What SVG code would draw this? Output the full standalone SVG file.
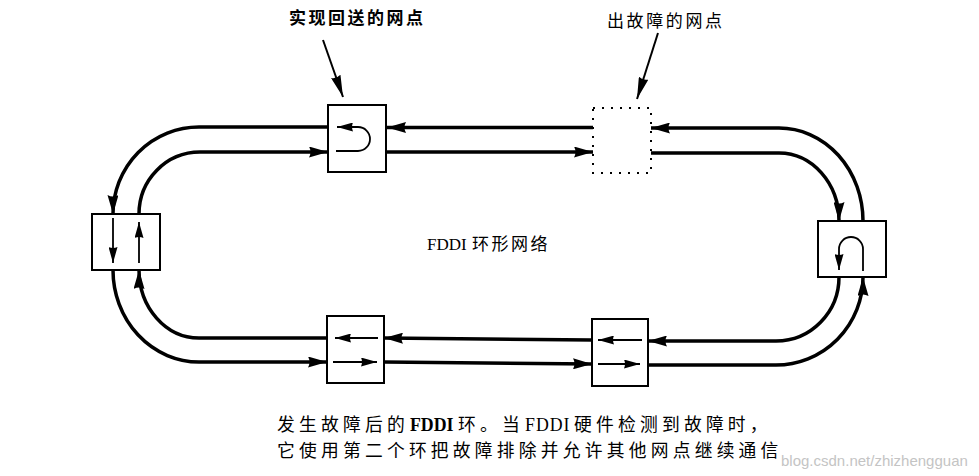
<svg xmlns="http://www.w3.org/2000/svg" width="979" height="476" viewBox="0 0 979 476">
<style>
.trk{fill:none;stroke:#000;stroke-width:3.5;stroke-linecap:butt}
.box{fill:#fff;stroke:#000;stroke-width:2}
.dot{fill:none;stroke:#000;stroke-width:2;stroke-dasharray:2 7}
.in{fill:none;stroke:#000;stroke-width:1.8}
.lbl{fill:none;stroke:#000;stroke-width:2}
.cjk{font-family:"Noto Sans CJK SC","Noto Sans",sans-serif;fill:#000}
.cap{font-family:"Noto Sans CJK SC","Noto Sans",sans-serif;fill:#000;font-size:17.8px;letter-spacing:4.2px}
.ser{font-family:"Liberation Serif",serif;fill:#000}
.wm{font-family:"Liberation Sans",Arial,sans-serif;fill:#c4c4c4}
</style>
<defs>
<marker id="ah" viewBox="0 0 19 11" refX="19" refY="5.5" markerWidth="19" markerHeight="11" markerUnits="userSpaceOnUse" orient="auto">
<path d="M0,0 L19,5.5 L0,11 Q3,5.5 0,0 z" fill="#000"/>
</marker>
<marker id="as" viewBox="0 0 16 9" refX="16" refY="4.5" markerWidth="16" markerHeight="9" markerUnits="userSpaceOnUse" orient="auto">
<path d="M0,0 L16,4.5 L0,9 Q2,4.5 0,0 z" fill="#000"/>
</marker>
<marker id="al" viewBox="0 0 22 10" refX="22" refY="5" markerWidth="22" markerHeight="10" markerUnits="userSpaceOnUse" orient="auto">
<path d="M0,0 L22,5 L0,10 Q3,5 0,0 z" fill="#000"/>
</marker>
</defs>

<g id="connectors">
<path class="trk" d="M328,127 H199 A86,87 0 0 0 113,214" marker-end="url(#ah)"/>
<path class="trk" d="M139,214 A61,62 0 0 1 200,152 H328" marker-end="url(#ah)"/>
<path class="trk" d="M593,127.5 H387" marker-end="url(#ah)"/>
<path class="trk" d="M386,152 H593" marker-end="url(#ah)"/>
<path class="trk" d="M863,221 A84,93 0 0 0 779,128 H651" marker-end="url(#ah)"/>
<path class="trk" d="M651,153 H779 A60,68 0 0 1 839,221" marker-end="url(#ah)"/>
<path class="trk" d="M648,365 H776 A87,88 0 0 0 863,277" marker-end="url(#ah)"/>
<path class="trk" d="M839,277 A63,64 0 0 1 776,341 H648" marker-end="url(#ah)"/>
<path class="trk" d="M592,340 L384,338" marker-end="url(#ah)"/>
<path class="trk" d="M384,362 L592,364" marker-end="url(#ah)"/>
<path class="trk" d="M327,338 H199 A60,68 0 0 1 139,270" marker-end="url(#ah)"/>
<path class="trk" d="M113,270 A86,92 0 0 0 199,362 H327" marker-end="url(#ah)"/>
<path class="lbl" d="M323,40 L343,97" marker-end="url(#al)"/>
<path class="lbl" d="M658,33 L637,99" marker-end="url(#al)"/>
</g>

<g id="node-loopback">
<rect class="box" x="328" y="105" width="58" height="67"/>
<path class="in" d="M336,151 H358 A12,12 0 0 0 358,127 H337" marker-end="url(#as)"/>
</g>

<g id="node-faulty">
<rect class="dot" x="593" y="108" width="58" height="65"/>
</g>

<g id="node-left">
<rect class="box" x="92" y="214" width="68" height="56"/>
<path class="in" d="M113,218 V263" marker-end="url(#as)"/>
<path class="in" d="M139,263 V222" marker-end="url(#as)"/>
</g>

<g id="node-right">
<rect class="box" x="818" y="221" width="68" height="56"/>
<path class="in" d="M863,271 V249 A12,12 0 0 0 839,249 V270" marker-end="url(#as)"/>
</g>

<g id="node-bottom-left">
<rect class="box" x="327" y="316" width="57" height="67"/>
<path class="in" d="M378,338 H335" marker-end="url(#as)"/>
<path class="in" d="M333,362 H377" marker-end="url(#as)"/>
</g>

<g id="node-bottom-right">
<rect class="box" x="592" y="319" width="56" height="67"/>
<path class="in" d="M642,340 H598" marker-end="url(#as)"/>
<path class="in" d="M598,364 H640" marker-end="url(#as)"/>
</g>

<g id="labels">
<text class="cjk" x="289" y="24" font-size="17" font-weight="bold" textLength="134" lengthAdjust="spacing">实现回送的网点</text>
<text class="cjk" x="607" y="27" font-size="17" textLength="115" lengthAdjust="spacing">出故障的网点</text>
<text class="ser" x="427" y="250" font-size="17">FDDI</text>
<text class="cjk" x="472" y="250" font-size="17" letter-spacing="2.5">环形网络</text>
<text class="wm" x="781" y="466" font-size="15">blog.csdn.net/zhizhengguan</text>
<text class="cap" x="277" y="431">发生故障后的</text>
<text class="ser" x="410" y="431" font-size="17.8" font-weight="bold">FDDI</text>
<text class="cap" x="458" y="431">环。当</text>
<text class="ser" x="525" y="431" font-size="17.8" letter-spacing="1">FDDI</text>
<text class="cap" x="574" y="431">硬件检测到故障时，</text>
<text class="cap" x="277" y="457">它使用第二个环把故障排除并允许其他网点继续通信</text>
</g>
</svg>
